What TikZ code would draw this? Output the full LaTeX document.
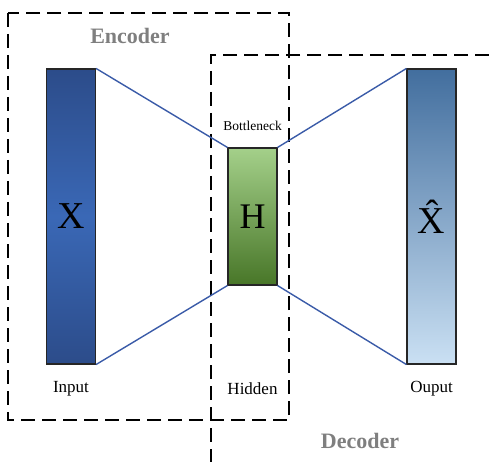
\documentclass[tikz,border=0pt]{standalone}
\usepackage{fontspec}
\setmainfont{Liberation Serif}
\usetikzlibrary{positioning}

\definecolor{linkblue}{HTML}{3A5BA8}
\definecolor{boxgray}{HTML}{7F7F7F}

\tikzset{
  layer/.style={draw=black!85, line width=1.1pt, inner sep=0pt, minimum width=49pt},
  region/.style={line width=1.5pt, dash pattern=on 14pt off 7pt},
  link/.style={linkblue, line width=1.4pt},
  caption/.style={font=\fontsize{17}{19}\selectfont},
  title/.style={boxgray, font=\fontsize{22}{24}\selectfont\bfseries}
}

\begin{document}
\begin{tikzpicture}[x=1pt,y=-1pt]
  \useasboundingbox (0,0) rectangle (489,462);
  % encoder and decoder regions
  \draw[region] (8,13) rectangle (289,420);
  \draw[region] (489,55) -- (211,55) -- (211,462);
  \node[title] (enc) at (130,36) {Encoder};
  \node[title] (dec) at (360,441) {Decoder};

  % layers
  \node[layer, minimum height=295pt, top color={rgb,255:red,44;green,76;blue,138},
        bottom color={rgb,255:red,44;green,76;blue,138}, middle color={rgb,255:red,58;green,104;blue,182}]
        (inp) at (71,216.5) {\fontsize{38}{40}\selectfont X};
  \node[layer, minimum height=137pt, top color={rgb,255:red,164;green,208;blue,138},
        bottom color={rgb,255:red,72;green,118;blue,40}]
        (hid) at (252.5,216.5) {\fontsize{36}{38}\selectfont H};
  \node[layer, minimum height=295pt, top color={rgb,255:red,66;green,110;blue,158},
        bottom color={rgb,255:red,202;green,224;blue,243}]
        (out) at (431.5,216.5) {\fontsize{38}{40}\selectfont\^{X}};

  % connections
  \draw[link] (inp.north east) -- (hid.north west);
  \draw[link] (inp.south east) -- (hid.south west);
  \draw[link] (hid.north east) -- (out.north west);
  \draw[link] (hid.south east) -- (out.south west);

  % captions
  \node[font=\fontsize{13.5}{15}\selectfont] (bn) at (252.5,126) {Bottleneck};
  \node[caption] (inlab) at (71,389) {Input};
  \node[caption] (hidlab) at (252.5,389) {Hidden};
  \node[caption] (outlab) at (431.5,389) {Ouput};
\end{tikzpicture}
\end{document}
